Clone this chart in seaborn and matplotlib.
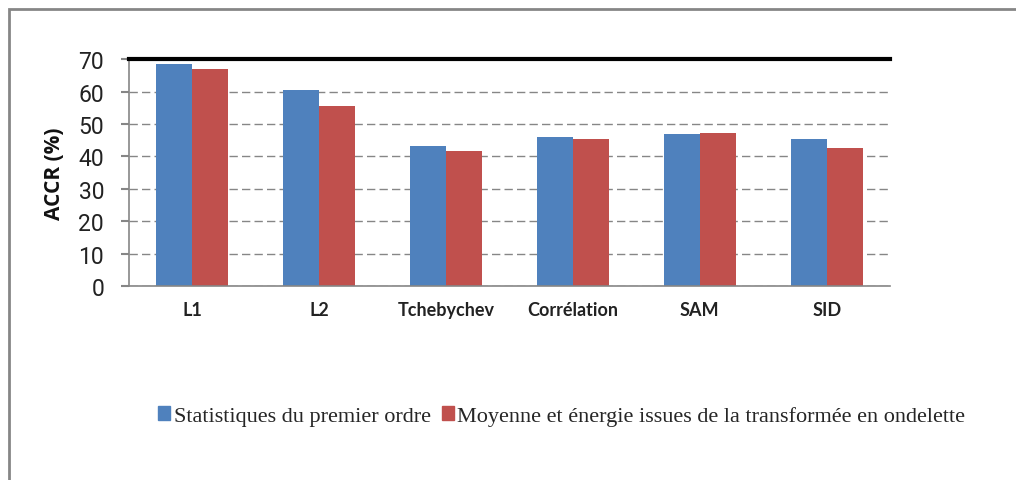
import matplotlib.pyplot as plt
import numpy as np
import pandas as pd
import seaborn as sns
from matplotlib.patches import Rectangle

# Data
categories = ["L1", "L2", "Tchebychev", "Corrélation", "SAM", "SID"]
serie_1 = "Statistiques du premier ordre"
serie_2 = "Moyenne et énergie issues de la transformée en ondelette"
values_1 = [68.5, 60.4, 43.2, 45.9, 46.9, 45.3]
values_2 = [66.9, 55.5, 41.6, 45.3, 47.2, 42.5]
y_ticks = [0, 10, 20, 30, 40, 50, 60, 70]

df = pd.DataFrame({
    "cat": categories * 2,
    "val": values_1 + values_2,
    "serie": [serie_1] * len(categories) + [serie_2] * len(categories),
})

sns.set_style("white")
grey = "#868686"

fig = plt.figure(figsize=(10.16, 4.81), dpi=100)
ax = fig.add_axes([0.127, 0.403, 0.749, 0.472])

sns.barplot(data=df, x="cat", y="val", hue="serie",
            palette=["#4F81BD", "#C0504D"], saturation=1,
            width=0.567, linewidth=0, ax=ax, legend=False)

ax.set_ylim(0, 70)
ax.set_xlim(-0.5, len(categories) - 0.5)
ax.set_yticks(y_ticks)
ax.set_yticklabels([str(t) for t in y_ticks],
                   family=["Roboto", "DejaVu Sans"], fontsize=16.5, color="#222222")
ax.set_axisbelow(True)
ax.yaxis.grid(True, linestyle=(0, (6, 3)), color=grey, linewidth=1)

# category boundaries get the tick marks (Excel style)
ax.set_xticks(np.arange(-0.5, len(categories), 1), minor=True)
ax.tick_params(axis="x", which="major", length=0, pad=11)
ax.tick_params(axis="x", which="minor", length=6, color=grey, width=1.5, direction="out")
ax.tick_params(axis="y", length=6, color=grey, width=1.5, direction="out", pad=12, left=True)
for lab in ax.get_xticklabels():
    lab.set_family(["Lato", "DejaVu Sans"])
    lab.set_fontweight("bold")
    lab.set_fontsize(13)
    lab.set_color("#222222")

ax.set_xlabel("")
ax.set_ylabel("ACCR (%)", fontsize=15, fontweight="bold",
              family=["Open Sans", "DejaVu Sans"], labelpad=10, color="#111111")

for side in ["left", "bottom"]:
    ax.spines[side].set_color(grey)
    ax.spines[side].set_linewidth(1.2)
ax.spines["top"].set_color("black")
ax.spines["top"].set_linewidth(3)
ax.spines["right"].set_visible(False)

# legend with small square markers
handles = [Rectangle((0, 0), 1, 1, color="#4F81BD"), Rectangle((0, 0), 1, 1, color="#C0504D")]
fig.legend(handles, [serie_1, serie_2], loc="center", bbox_to_anchor=(0.553, 0.133),
           ncol=2, frameon=False, handlelength=0.55, handleheight=0.55,
           handletextpad=0.15, columnspacing=0.5,
           prop={"family": ["Liberation Serif", "DejaVu Serif"], "size": 16})

# outer frame of the chart area
frame = Rectangle((0.009, -0.05), 1.1, 1.03, transform=fig.transFigure,
                  fill=False, edgecolor=grey, linewidth=2, clip_on=False)
fig.patches.append(frame)

fig.savefig("out.png", dpi=100)
